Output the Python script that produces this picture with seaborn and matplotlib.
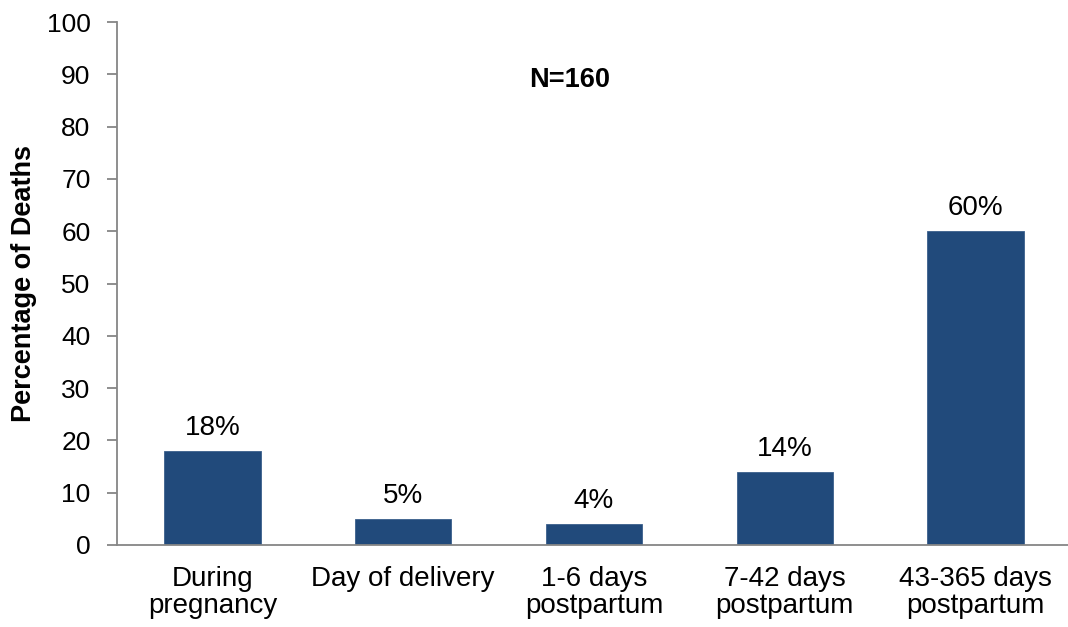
import matplotlib
matplotlib.use("Agg")
import matplotlib.pyplot as plt
import seaborn as sns
import pandas as pd
import numpy as np

categories = ["During\npregnancy", "Day of delivery", "1-6 days\npostpartum",
              "7-42 days\npostpartum", "43-365 days\npostpartum"]
values = [18, 5, 4, 14, 60]
labels = ["18%", "5%", "4%", "14%", "60%"]
yticks = [0, 10, 20, 30, 40, 50, 60, 70, 80, 90, 100]

sns.set_theme(style="white")
plt.rcParams['font.family'] = ['Liberation Sans', 'DejaVu Sans']

df = pd.DataFrame({"cat": categories, "val": values})

fig = plt.figure(figsize=(10.68, 6.27), dpi=100)
ax = fig.add_axes([117/1068, 1 - 545/627, (1071-117)/1068, (545-22)/627])

sns.barplot(data=df, x="cat", y="val", color="#214A7B", width=0.505,
            saturation=1, ax=ax, edgecolor="#3B5F8C", linewidth=0.6)

ax.set_ylim(0, 100)
ax.set_xlim(-0.5, len(categories) - 0.5)
ax.set_yticks(yticks)
ax.set_yticklabels([str(t) for t in yticks], fontsize=19, color="black")
ax.set_xticks(range(len(categories)))
ax.set_xticklabels(categories, fontsize=20, color="black", linespacing=1.08)
ax.set_xticks(np.arange(-0.5, len(categories)), minor=True)
ax.tick_params(axis="x", which="major", length=0, pad=15)
ax.tick_params(axis="x", which="minor", length=7, width=1.3, color="#868686", direction="out")
ax.tick_params(axis="y", which="major", length=7, width=1.3, color="#868686", direction="out", pad=12, left=True)

for s in ["top", "right"]:
    ax.spines[s].set_visible(False)
for s in ["left", "bottom"]:
    ax.spines[s].set_color("#868686")
    ax.spines[s].set_linewidth(1.3)

ax.set_xlabel("")
ax.set_ylabel("Percentage of Deaths", fontsize=19.5, fontweight="bold", color="black", labelpad=7)

for i, (v, lab) in enumerate(zip(values, labels)):
    ax.annotate(lab, (i, v), xytext=(0, 7), textcoords="offset points",
                ha="center", va="bottom", fontsize=20, color="black")

ax.text(1.87, 88.9, "N=160", ha="center", va="center", fontsize=19.5, fontweight="bold", color="black")

fig.savefig("out.png", dpi=100)
